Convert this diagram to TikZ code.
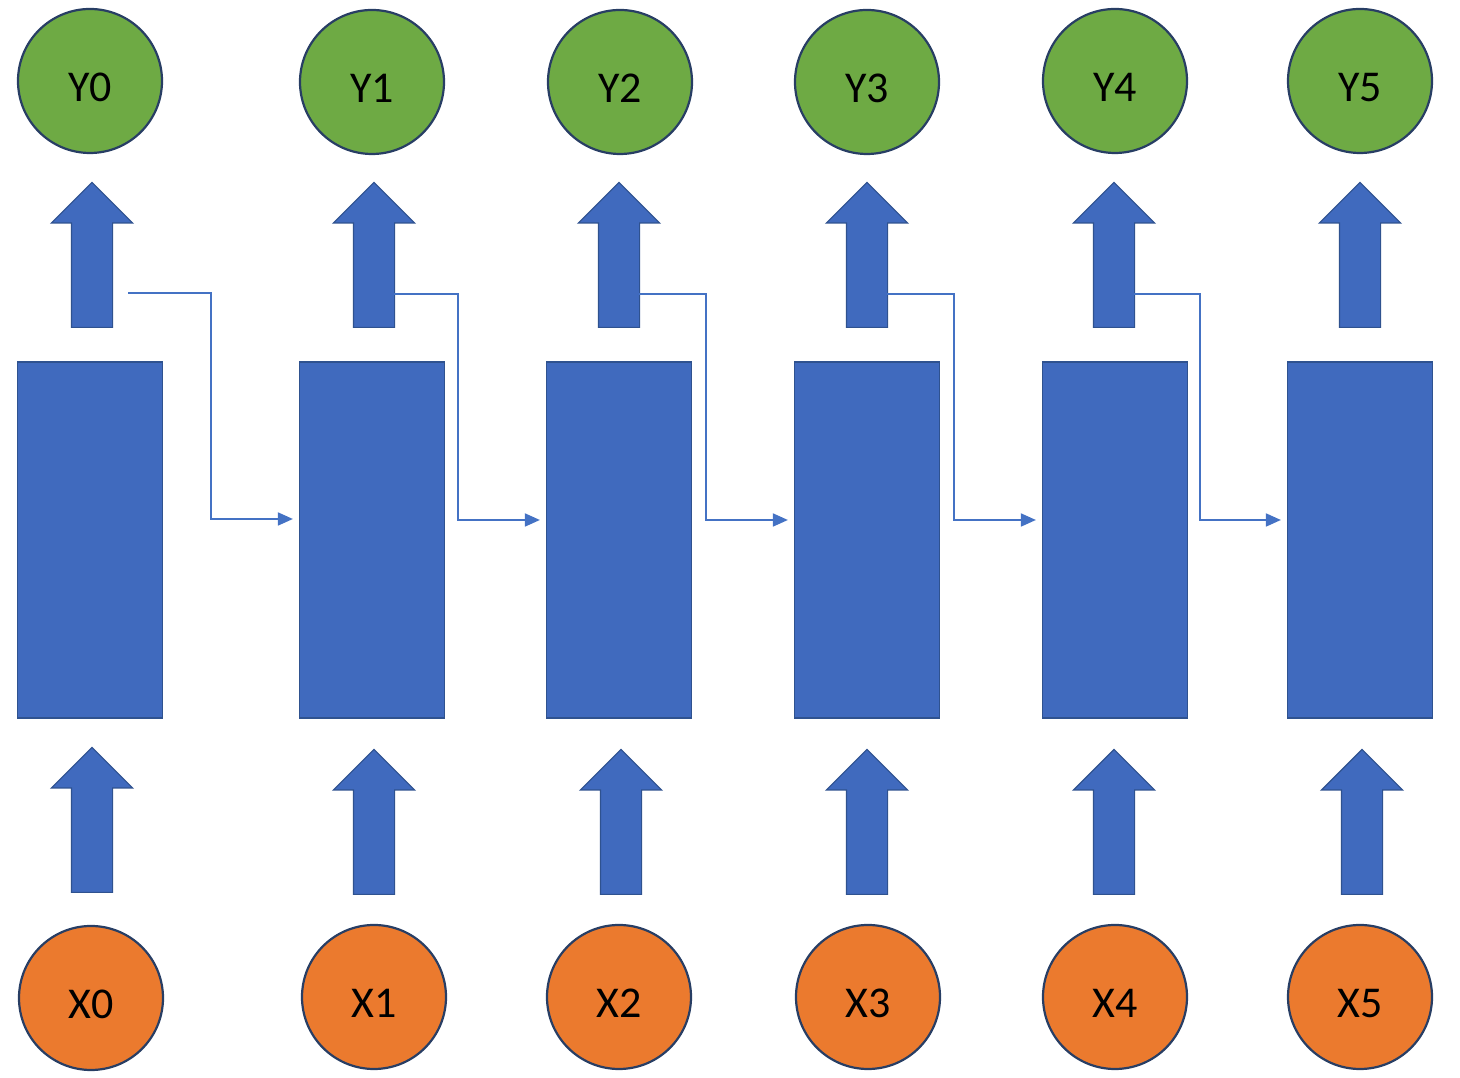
\documentclass[tikz,border=0pt]{standalone}
\usepackage{fontspec}
\setmainfont{Carlito}
\usetikzlibrary{shapes.arrows,arrows.meta}
\definecolor{cellblue}{RGB}{64,106,190}
\definecolor{edgeblue}{RGB}{47,82,143}
\definecolor{ringblue}{RGB}{40,62,100}
\definecolor{outgreen}{RGB}{110,170,68}
\definecolor{inorange}{RGB}{235,122,46}
\definecolor{linkblue}{RGB}{68,114,196}
\tikzset{
  cell/.style={draw=edgeblue, line width=1.2pt, fill=cellblue, minimum width=145pt, minimum height=356pt, inner sep=0pt},
  token/.style={circle, draw=ringblue, line width=2.2pt, minimum size=144pt, inner sep=0pt, font=\fontsize{44}{44}\selectfont, text height=42pt, text depth=0pt},
  outtoken/.style={token, fill=outgreen},
  intoken/.style={token, fill=inorange},
  flow/.style={single arrow, draw=edgeblue, line width=1.2pt, fill=cellblue, rotate=90, anchor=tail, minimum height=145pt, minimum width=80pt, single arrow head extend=20pt, single arrow tip angle=90, inner xsep=0pt, inner ysep=20pt},
  link/.style={draw=linkblue, line width=1.8pt, -{Triangle[length=15pt,width=13pt]}, shorten >=6pt}
}

\begin{document}
\begin{tikzpicture}[x=1pt, y=1pt]
			%%%%% START %%%%%
			\useasboundingbox (0, 0) rectangle (1460, 1078);
			
			\node[cell] (cell0) at (90, 538) {};
			\node[cell] (cell1) at (372, 538) {};
			\node[cell] (cell2) at (619, 538) {};
			\node[cell] (cell3) at (867, 538) {};
			\node[cell] (cell4) at (1115, 538) {};
			\node[cell] (cell5) at (1360, 538) {};
			
			\node[outtoken] (y0) at (90, 997) {Y0};
			\node[outtoken] (y1) at (372, 996) {Y1};
			\node[outtoken] (y2) at (620, 996) {Y2};
			\node[outtoken] (y3) at (867, 996) {Y3};
			\node[outtoken] (y4) at (1115, 997) {Y4};
			\node[outtoken] (y5) at (1360, 997) {Y5};
			
			\node[intoken] (x0) at (91, 80) {X0};
			\node[intoken] (x1) at (374, 81) {X1};
			\node[intoken] (x2) at (619, 81) {X2};
			\node[intoken] (x3) at (868, 81) {X3};
			\node[intoken] (x4) at (1115, 81) {X4};
			\node[intoken] (x5) at (1360, 81) {X5};
			
			\node[flow] (out0) at (92, 750) {};
			\node[flow] (out1) at (374, 750) {};
			\node[flow] (out2) at (619, 750) {};
			\node[flow] (out3) at (867, 750) {};
			\node[flow] (out4) at (1114, 750) {};
			\node[flow] (out5) at (1360, 750) {};
			
			\node[flow] (in0) at (92, 185) {};
			\node[flow] (in1) at (374, 183) {};
			\node[flow] (in2) at (621, 183) {};
			\node[flow] (in3) at (867, 183) {};
			\node[flow] (in4) at (1114, 183) {};
			\node[flow] (in5) at (1362, 183) {};
			
			\coordinate (s0) at (128, 785);
			\coordinate (s1) at (394, 784);
			\coordinate (s2) at (639, 784);
			\coordinate (s3) at (887, 784);
			\coordinate (s4) at (1134, 784);
			
			\draw[link] (s0) -| ([xshift=-88pt, yshift=21pt]cell1.west) -- ([yshift=21pt]cell1.west);
			\draw[link] (s1) -| ([xshift=-88pt, yshift=20pt]cell2.west) -- ([yshift=20pt]cell2.west);
			\draw[link] (s2) -| ([xshift=-88pt, yshift=20pt]cell3.west) -- ([yshift=20pt]cell3.west);
			\draw[link] (s3) -| ([xshift=-88pt, yshift=20pt]cell4.west) -- ([yshift=20pt]cell4.west);
			\draw[link] (s4) -| ([xshift=-87pt, yshift=20pt]cell5.west) -- ([yshift=20pt]cell5.west);
			
			%%%%% END %%%%%
		\end{tikzpicture}
\end{document}
